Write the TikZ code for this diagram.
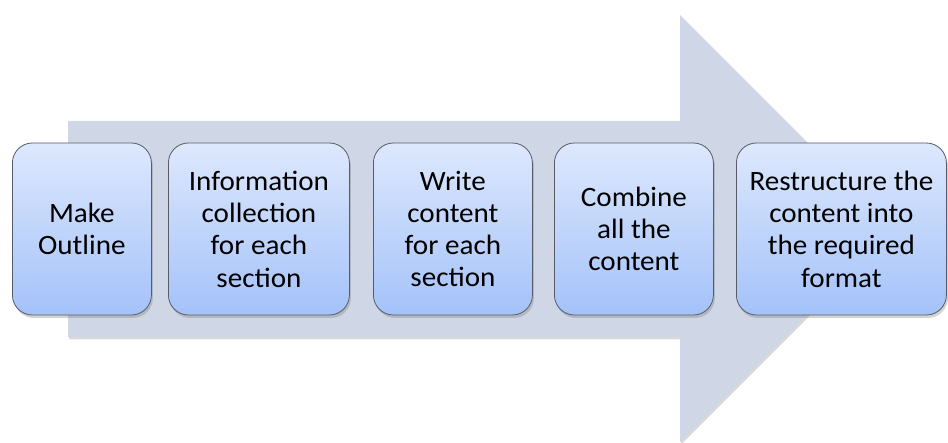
\documentclass[tikz,border=0pt]{standalone}
\usepackage{fontspec}
\setmainfont{Carlito}[FakeStretch=1.04]
\usetikzlibrary{shadows}

\definecolor{arrowgray}{HTML}{CFD6E5}
\definecolor{boxtop}{HTML}{DDE8FD}
\definecolor{boxbottom}{HTML}{A4C2F9}
\definecolor{boxline}{HTML}{555C66}

\tikzset{
	stepbox/.style={draw=boxline, line width=0.8pt, rounded corners=20pt,
		top color=boxtop, bottom color=boxbottom, anchor=west,
		minimum height=172pt, align=center, inner sep=2pt,
		font=\fontsize{28}{32.3}\selectfont,
		drop shadow={shadow xshift=1.5pt, shadow yshift=-3pt, opacity=0.35}}
}

\begin{document}
\begin{tikzpicture}[x=1pt,y=1pt]

	\useasboundingbox (0,0) rectangle (948,442);

	% big background arrow
	\fill[arrowgray, drop shadow={shadow xshift=1pt, shadow yshift=-2.5pt, opacity=0.3}]
		(68,105) -- (68,321) -- (680,321) -- (680,427) -- (893.5,213.5) -- (680,0) -- (680,105) -- cycle;

	\node[stepbox, minimum width=139pt] at (12,213) (S1) {Make\\Outline};
	\node[stepbox, minimum width=181pt] at (168,213) (S2) {Information\\collection\\for each\\section};
	\node[stepbox, minimum width=159pt] at (373,213) (S3) {Write\\content\\for each\\section};
	\node[stepbox, minimum width=159pt] at (554,213) (S4) {Combine\\all the\\content};
	\node[stepbox, minimum width=210pt] at (736,213) (S5) {Restructure the\\content into\\the required\\format};

\end{tikzpicture}
\end{document}
